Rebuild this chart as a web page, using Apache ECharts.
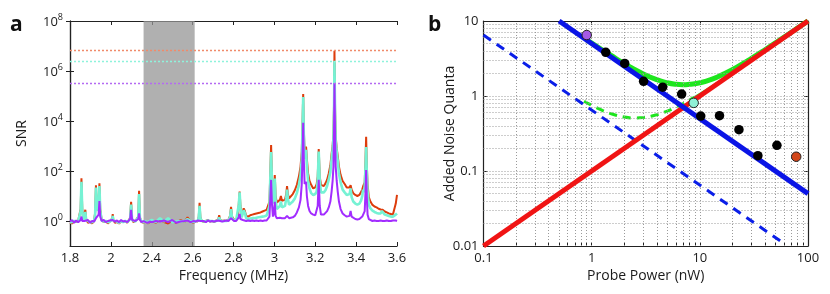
<!DOCTYPE html>
<html><head><meta charset="utf-8">
<script src="https://cdn.jsdelivr.net/npm/echarts@6/dist/echarts.min.js"></script>
<style>html,body{margin:0;padding:0;background:#fff}#c{width:830px;height:294px}</style>
</head><body><div id="c"></div>
<script>
// ---------- Panel a data ----------
const freqTickLabels = ['1.8','2','2.4','2.6','2.8','3','3.2','3.4','3.6'];
const freqTicks = [1.8, 2, 2.4, 2.6, 2.8, 3, 3.2, 3.4, 3.6];
const snrTickValues = [1, 1e2, 1e4, 1e6, 1e8];
const freqs = [
1.800,1.810,1.820,1.830,1.840,1.848,1.852,1.856,1.860,1.865,1.871,1.875,1.879,1.888,1.898,1.908,1.918,1.923,1.927,1.931,
1.936,1.940,1.944,1.948,1.955,1.965,1.975,1.985,1.995,2.005,2.014,2.018,2.024,2.04,2.06,2.08,2.10,2.12,2.14,2.16,
2.175,2.188,2.198,2.208,2.22,2.24,2.258,2.268,2.276,2.284,2.30,2.32,2.34,2.36,2.38,2.40,2.42,2.44,2.46,2.48,
2.50,2.52,2.54,2.56,2.575,2.59,2.605,2.615,2.625,2.630,2.634,2.638,2.645,2.655,2.665,2.675,2.685,2.695,2.705,2.715,
2.725,2.730,2.735,2.745,2.755,2.765,2.775,2.783,2.788,2.793,2.803,2.813,2.822,2.826,2.830,2.834,2.840,2.846,2.850,2.855,
2.862,2.872,2.882,2.892,2.902,2.912,2.922,2.932,2.942,2.952,2.962,2.970,2.976,2.980,2.984,2.988,2.993,2.997,3.002,3.006,
3.012,3.020,3.027,3.032,3.037,3.045,3.052,3.058,3.062,3.066,3.072,3.080,3.090,3.100,3.110,3.120,3.128,3.134,3.138,3.141,
3.144,3.148,3.152,3.155,3.159,3.165,3.172,3.180,3.190,3.200,3.207,3.212,3.217,3.222,3.228,3.235,3.242,3.250,3.258,3.266,
3.274,3.280,3.285,3.289,3.292,3.294,3.297,3.300,3.305,3.310,3.316,3.324,3.334,3.344,3.354,3.362,3.368,3.373,3.378,3.386,
3.396,3.406,3.416,3.424,3.430,3.434,3.438,3.442,3.446,3.449,3.452,3.456,3.462,3.470,3.480,3.490,3.500,3.510,3.520,3.526,
3.530,3.540,3.550,3.560,3.570,3.580,3.588,3.594,3.600
];
const snrRed = [
.85,.8,.95,.9,1,1.1,3,51,3,1.1,1.3,2.8,1.2,.85,.95,.8,1,2.2,27,3,
2.5,6,32,3,1.1,.9,1,.8,.95,1,1.3,1.9,1.1,.85,.9,.8,.95,.9,1,.85,
.95,1.3,5.9,1.2,.9,1,.9,1.5,16,1.4,.9,.85,1,.8,.9,1.05,.85,1.2,.9,.8,
1,.85,1.1,.9,1.4,.95,.85,1,.95,1.5,5.4,1.4,1,.9,1,1.1,.95,1,.9,1.05,
1.1,1.7,1.1,1,1.05,1,1.1,1.6,3.7,1.5,1.1,1.15,1.4,5,15,4,1.6,2.4,3.2,2.6,
1.6,1.5,1.7,1.8,1.9,2.0,2.1,2.2,2.4,2.6,2.8,3.3,6,80,1100,60,8,10,69,10,
5.5,5.5,7,10,6.5,6,7,12,25,12,8,9,12,17,28,60,150,600,10000,120000,
5000,500,700,940,300,80,40,28,20,22,30,60,760,60,28,24,25,32,45,80,
170,500,1000,3000,50000,6.5e6,30000,2500,800,400,150,70,40,30,22,20,22,27,18,13,
11,10,11,13,18,24,20,35,300,2350,200,30,9,6,4.4,3.8,3.5,3.1,2.9,3.2,
2.8,2.4,2.2,2.0,1.9,1.8,2.0,5,11
];
const snrCyan = [
.9,.9,1,.95,1,1.05,2.5,37,2.5,1.05,1.2,2.3,1.1,.95,.9,.9,1,1.8,22,2.5,
2.2,5,25,2.5,1.05,.95,1,.9,.95,1,1.2,1.6,1.05,.9,.95,.85,1,.9,1,.9,
1,1.2,4.5,1.1,.95,.95,.95,1.4,12,1.3,.95,.9,1,.85,1,1.1,.9,1.3,.95,1.3,
.9,.95,1,.95,1.2,1,.9,1,1,1.4,4,1.3,1,.95,1,1.05,1,1,.95,1,
1.05,1.4,1.05,1,1,1,1.05,1.4,3,1.3,1.05,1.1,1.3,4.5,14,3.5,1.4,2,2.7,2.2,
1.3,1.2,1.25,1.3,1.3,1.35,1.4,1.45,1.5,1.55,1.65,1.9,4,50,570,40,5,8,50,7,
3,2.8,4,6,3.5,3.2,4,8,18,8,4.5,5,6,8,13,28,70,300,6000,90000,
3000,300,450,700,150,40,20,13,11,12,15,40,600,40,14,13,14,17,25,45,
90,300,700,2000,30000,2.5e6,20000,1500,600,250,80,35,18,14,11,10,12,20,9,6,
5,4.5,5,6.5,10,18,14,25,150,900,100,15,4.5,3.2,2.6,2.3,2.1,2.0,2.0,2.5,
2.2,1.8,1.7,1.6,1.5,1.5,1.6,1.8,2.0
];
const snrPurple = [
.95,1.1,.85,1.05,.9,1,1.1,1.5,1,.9,1,1.05,.9,1.1,.85,1,.95,1.05,1.3,1.1,
1.2,1.8,6.3,1.5,1,1.1,.9,1,1.05,.95,1.1,1.3,1,.95,1.05,.9,1.1,.95,1,.9,
1.05,1.2,2.8,1.1,.95,1,.9,1.2,2,1.1,.9,1,.9,.85,.95,.9,1,.95,1.05,.9,
1.1,.85,.95,1,1.05,.9,1,.95,1.05,1.1,1.2,1,.95,1,.9,1.05,.95,1,.95,1,
1.05,1.1,1,.95,1,1.05,1,1.1,1.3,1.1,1,1,1.05,1.4,1.9,1.2,1.05,1.1,1.15,1.1,
1,1.05,1,1.05,1,1.05,1,1.05,1,1.05,1.05,1.1,1.5,8,44,5,1.5,2,5.9,1.6,
1.3,1.25,1.35,1.5,1.3,1.2,1.3,1.4,1.6,1.4,1.3,1.3,1.4,1.6,2.2,3.5,7,30,500,8500,
300,30,35,37,10,4,2.5,2,1.8,1.7,2,4,44,4,1.8,1.7,1.8,2,2.5,3.5,
6,15,40,150,5000,3.3e5,3000,150,40,15,6,3,2,1.7,1.5,1.5,1.6,2.5,1.5,1.3,
1.2,1.15,1.2,1.3,1.5,1.6,1.6,2.5,15,110,10,1.8,1.2,1.1,1,1.05,1,1,1.05,1.1,
1,1,1.05,1,1,1.05,1,1.05,1
];
const maxSNRRed = 6.5e6, maxSNRCyan = 2.5e6, maxSNRPurple = 3.3e5;
const shadedBand = [2.32, 2.61];

// ---------- Panel b data ----------
const noiseTickValues = [0.01, 0.1, 1, 10];
const powerTickValues = [0.1, 1, 10, 100];
const backactionPower = [0.1, 100];
const backactionNoise = [0.01, 10];
const imprecisionPower = [0.5, 100];
const imprecisionNoise = [10, 0.05];
const imprecisionDashPower = [0.1, 60];
const imprecisionDashNoise = [6.5, 0.0108];
const totalPower = [0.9,1.2,1.5,2,3,4,5,6,7,8,10,13,17,22,30,40,55,75,100];
const totalNoise = [5.6,4.3,3.5,2.7,1.97,1.65,1.5,1.43,1.41,1.43,1.5,1.68,2.0,2.43,3.17,4.13,5.6,7.57,10.05];
const totalDashPower = [0.85,1.2,1.5,2,2.5,3,4,5,6,7,8,9];
const totalDashNoise = [0.85,0.662,0.583,0.525,0.51,0.517,0.5625,0.63,0.708,0.793,0.881,0.972];
const totalThinPower = [8,10,15,20,30];
const totalThinNoise = [0.881,1.065,1.543,2.03,3.02];
const measPower = [1.35,2.02,3.02,4.53,6.79,10.2,15.2,23,34.4,51.6];
const measNoise = [3.82,2.72,1.57,1.31,1.06,0.54,0.546,0.356,0.16,0.22];
const purplePoint = [0.9, 6.5];
const cyanPoint = [8.77, 0.81];
const orangePoint = [77.8, 0.155];

// ---------- helpers ----------
function toAxis(f){
  for (let i = 0; i < freqTicks.length - 1; i++) {
    if (f <= freqTicks[i+1]) return i + (f - freqTicks[i]) / (freqTicks[i+1] - freqTicks[i]);
  }
  return freqTicks.length - 1;
}
const pairs = (xs, ys) => xs.map((x, i) => [x, ys[i]]);
const spec = ys => freqs.map((f, i) => [toAxis(f), ys[i]]);
const minorVals = [];
[0.01, 0.1, 1, 10].forEach(d => { for (let k = 1; k <= 9; k++) minorVals.push(+(d * k).toPrecision(3)); });
const gridX = minorVals.filter(v => v > 0.1 && v < 100);
const gridY = minorVals.filter(v => v > 0.01 && v < 10);

const FONT = 'Open Sans';
const txt = '#1a1a1a';
const axLine = {show: true, lineStyle: {color: '#222', width: 1.2}};
const supFmt = v => '{b|10}{s|' + Math.round(Math.log10(v)) + '}';

const chart = echarts.init(document.getElementById('c'), null, {renderer: 'canvas'});
chart.setOption({
  animation: false,
  backgroundColor: '#fff',
  textStyle: {fontFamily: FONT},
  grid: [
    {left: 70, top: 21, width: 327, height: 225},
    {left: 483.5, top: 21, width: 324.5, height: 225}
  ],
  graphic: [
    {type: 'text', left: 10, top: 15, style: {text: 'a', font: 'bold 21px ' + FONT, fill: '#111'}},
    {type: 'text', left: 428, top: 15, style: {text: 'b', font: 'bold 21px ' + FONT, fill: '#111'}}
  ],
  xAxis: [
    {gridIndex: 0, type: 'value', min: 0, max: 8, interval: 1,
     name: 'Frequency (MHz)', nameLocation: 'middle', nameGap: 23, nameMoveOverlap: false,
     nameTextStyle: {fontSize: 14, color: txt, fontFamily: FONT},
     axisLine: axLine, axisTick: {inside: true, length: 4, lineStyle: {color: '#222'}},
     axisLabel: {color: txt, fontSize: 13, margin: 6, formatter: v => freqTickLabels[Math.round(v)]},
     splitLine: {show: false}},
    {gridIndex: 0, type: 'value', min: 0, max: 8, interval: 1, position: 'top',
     axisLine: axLine, axisTick: {inside: true, length: 4, lineStyle: {color: '#222'}},
     axisLabel: {show: false}, splitLine: {show: false}},
    {gridIndex: 1, type: 'log', min: 0.1, max: 100,
     name: 'Probe Power (nW)', nameLocation: 'middle', nameGap: 23, nameMoveOverlap: false,
     nameTextStyle: {fontSize: 14, color: txt, fontFamily: FONT},
     axisLine: axLine,
     axisTick: {inside: true, length: 3, customValues: minorVals.filter(v => v >= 0.1 && v <= 100), lineStyle: {color: '#222'}},
     axisLabel: {color: txt, fontSize: 13, margin: 6, customValues: powerTickValues,
                 formatter: v => ({0.1: '0.1', 1: '1', 10: '10', 100: '100'})[v] || String(v)},
     splitLine: {show: false}},
    {gridIndex: 1, type: 'log', min: 0.1, max: 100, position: 'top',
     axisLine: axLine, axisTick: {inside: true, length: 4, customValues: powerTickValues, lineStyle: {color: '#222'}},
     axisLabel: {show: false}, splitLine: {show: false}}
  ],
  yAxis: [
    {gridIndex: 0, type: 'log', min: 0.1, max: 1e8,
     name: 'SNR', nameLocation: 'middle', nameGap: 41, nameRotate: 90, nameMoveOverlap: false,
     nameTextStyle: {fontSize: 14, color: txt, fontFamily: FONT},
     axisLine: axLine,
     axisTick: {inside: true, length: 4, customValues: snrTickValues, lineStyle: {color: '#222'}},
     axisLabel: {color: txt, margin: 7, customValues: snrTickValues, formatter: supFmt,
       rich: {b: {fontSize: 13, color: txt, fontFamily: FONT, padding: [3, 0, 0, 0], verticalAlign: 'bottom'},
              s: {fontSize: 9, color: txt, fontFamily: FONT, lineHeight: 10, verticalAlign: 'top'}}},
     splitLine: {show: false}},
    {gridIndex: 0, type: 'log', min: 0.1, max: 1e8, position: 'right',
     axisLine: axLine,
     axisTick: {inside: true, length: 4, customValues: snrTickValues, lineStyle: {color: '#222'}},
     axisLabel: {show: false}, splitLine: {show: false}},
    {gridIndex: 1, type: 'log', min: 0.01, max: 10,
     name: 'Added Noise Quanta', nameLocation: 'middle', nameGap: 26, nameRotate: 90, nameMoveOverlap: false,
     nameTextStyle: {fontSize: 14, color: txt, fontFamily: FONT},
     axisLine: axLine,
     axisTick: {inside: true, length: 4, customValues: noiseTickValues, lineStyle: {color: '#222'}},
     axisLabel: {color: txt, fontSize: 13, margin: 5, customValues: noiseTickValues,
                 formatter: v => ({0.01: '0.01', 0.1: '0.1', 1: '1', 10: '10'})[v] || String(v)},
     splitLine: {show: false}},
    {gridIndex: 1, type: 'log', min: 0.01, max: 10, position: 'right',
     axisLine: axLine,
     axisTick: {inside: true, length: 4, customValues: noiseTickValues, lineStyle: {color: '#222'}},
     axisLabel: {show: false}, splitLine: {show: false}}
  ],
  series: [
    // ---- panel a ----
    {type: 'line', xAxisIndex: 0, yAxisIndex: 0, data: spec(snrRed), showSymbol: false, symbol: 'none',
     lineStyle: {color: '#dd3c0c', width: 2}, z: 2,
     markLine: {silent: true, symbol: 'none', label: {show: false},
       lineStyle: {color: '#f08a6a', type: [2, 2], width: 1.3}, data: [{yAxis: maxSNRRed}]}},
    {type: 'line', xAxisIndex: 0, yAxisIndex: 0, data: spec(snrCyan), showSymbol: false, symbol: 'none',
     lineStyle: {color: '#76f2d4', width: 2.6}, z: 3,
     markLine: {silent: true, symbol: 'none', label: {show: false},
       lineStyle: {color: '#8ef3dc', type: [2, 2], width: 1.3}, data: [{yAxis: maxSNRCyan}]}},
    {type: 'line', xAxisIndex: 0, yAxisIndex: 0, data: spec(snrPurple), showSymbol: false, symbol: 'none',
     lineStyle: {color: '#a22cff', width: 2}, z: 4,
     markLine: {silent: true, symbol: 'none', label: {show: false},
       lineStyle: {color: '#b46af2', type: [2, 2], width: 1.3}, data: [{yAxis: maxSNRPurple}]}},
    {type: 'line', xAxisIndex: 0, yAxisIndex: 0, data: [], z: 10,
     markArea: {silent: true, itemStyle: {color: 'rgba(150,150,150,0.75)'},
       data: [[{xAxis: toAxis(shadedBand[0])}, {xAxis: toAxis(shadedBand[1])}]]}},
    // ---- panel b ----
    {type: 'line', xAxisIndex: 2, yAxisIndex: 2, data: [], z: 1,
     markLine: {silent: true, symbol: 'none', label: {show: false},
       lineStyle: {color: '#9a9a9a', type: [1, 2], width: 1},
       data: gridX.map(v => ({xAxis: v})).concat(gridY.map(v => ({yAxis: v})))}},
    {type: 'line', xAxisIndex: 2, yAxisIndex: 2, data: pairs(totalPower, totalNoise), symbol: 'none',
     smooth: true, lineStyle: {color: '#1ee61e', width: 5}, z: 3},
    {type: 'line', xAxisIndex: 2, yAxisIndex: 2, data: pairs(totalThinPower, totalThinNoise), symbol: 'none',
     smooth: true, lineStyle: {color: '#1ee61e', width: 2}, z: 3},
    {type: 'line', xAxisIndex: 2, yAxisIndex: 2, data: pairs(totalDashPower, totalDashNoise), symbol: 'none',
     smooth: true, lineStyle: {color: '#1ee61e', width: 3, type: [8, 6]}, z: 4},
    {type: 'line', xAxisIndex: 2, yAxisIndex: 2, data: pairs(imprecisionDashPower, imprecisionDashNoise), symbol: 'none',
     lineStyle: {color: '#0a1ee8', width: 3, type: [9, 7]}, z: 5},
    {type: 'line', xAxisIndex: 2, yAxisIndex: 2, data: pairs(backactionPower, backactionNoise), symbol: 'none',
     lineStyle: {color: '#f01414', width: 5}, z: 6},
    {type: 'line', xAxisIndex: 2, yAxisIndex: 2, data: pairs(imprecisionPower, imprecisionNoise), symbol: 'none',
     lineStyle: {color: '#0a14e6', width: 5}, z: 7},
    {type: 'scatter', xAxisIndex: 2, yAxisIndex: 2, data: pairs(measPower, measNoise), symbolSize: 9.5,
     itemStyle: {color: '#000', opacity: 1}, z: 8},
    {type: 'scatter', xAxisIndex: 2, yAxisIndex: 2, data: [purplePoint], symbolSize: 9.5,
     itemStyle: {color: '#a55ae6', borderColor: '#222', borderWidth: 1, opacity: 1}, z: 9},
    {type: 'scatter', xAxisIndex: 2, yAxisIndex: 2, data: [cyanPoint], symbolSize: 9.5,
     itemStyle: {color: '#8ff0d6', borderColor: '#222', borderWidth: 1, opacity: 1}, z: 9},
    {type: 'scatter', xAxisIndex: 2, yAxisIndex: 2, data: [orangePoint], symbolSize: 9.5,
     itemStyle: {color: '#d2461a', borderColor: '#222', borderWidth: 1, opacity: 1}, z: 9}
  ]
});
</script>
</body></html>
